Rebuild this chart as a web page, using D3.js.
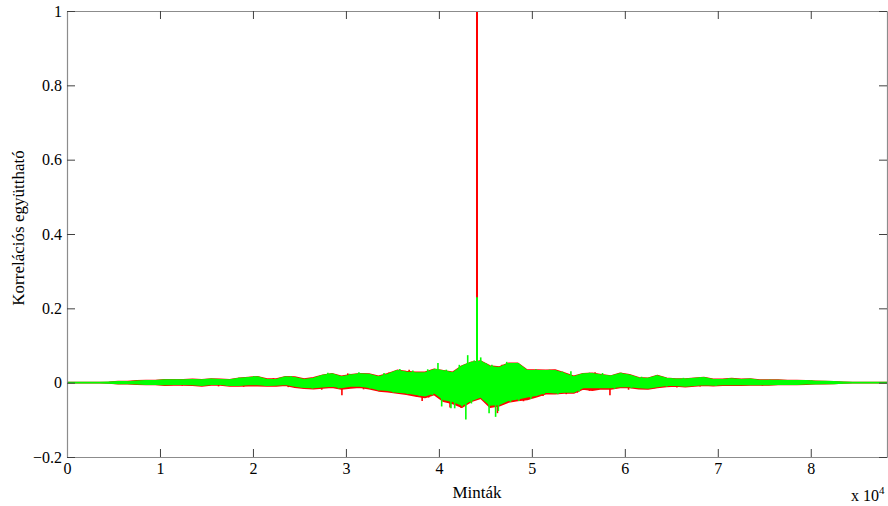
<!DOCTYPE html>
<html>
<head>
<meta charset="utf-8">
<script src="https://cdn.jsdelivr.net/npm/d3@7"></script>
<style>
  html, body { margin: 0; padding: 0; background: #fff; }
  svg { display: block; }
  text { font-family: "Liberation Serif", "Times New Roman", serif; fill: #000; }
</style>
</head>
<body>
<svg id="chart" width="888" height="506"></svg>
<script>
// Cross-correlation envelopes: max / min of each 1000-sample block (block k covers k*1000 .. k*1000+999)
const blockSize = 1000;

const greenHi = [0,0,0,0,0.001,0.002,0.002,0.004,0.005,0.005,
  0.007,0.007,0.007,0.008,0.007,0.009,0.008,0.007,0.011,0.013,
  0.015,0.008,0.008,0.015,0.013,0.008,0.011,0.019,0.023,0.015,
  0.020,0.023,0.022,0.015,0.022,0.032,0.028,0.026,0.026,0.035,
  0.031,0.026,0.044,0.054,0.057,0.043,0.040,0.051,0.051,0.032,
  0.032,0.032,0.032,0.024,0.015,0.023,0.024,0.020,0.017,0.024,
  0.020,0.012,0.011,0.018,0.011,0.009,0.009,0.011,0.013,0.008,
  0.008,0.010,0.008,0.009,0.006,0.006,0.006,0.005,0.005,0.005,
  0.003,0.003,0.002,0.001,0,0,0,0,0];

const greenLo = [0,0,0,0,-0.001,-0.002,-0.002,-0.003,-0.004,-0.004,
  -0.005,-0.004,-0.004,-0.005,-0.007,-0.004,-0.004,-0.007,-0.007,-0.005,
  -0.005,-0.007,-0.006,-0.004,-0.009,-0.012,-0.013,-0.011,-0.009,-0.013,
  -0.009,-0.009,-0.012,-0.018,-0.020,-0.025,-0.027,-0.031,-0.035,-0.027,
  -0.045,-0.050,-0.060,-0.047,-0.038,-0.060,-0.058,-0.047,-0.043,-0.038,
  -0.034,-0.025,-0.027,-0.025,-0.025,-0.013,-0.012,-0.013,-0.013,-0.010,
  -0.010,-0.013,-0.014,-0.010,-0.007,-0.007,-0.009,-0.007,-0.005,-0.006,
  -0.005,-0.005,-0.005,-0.005,-0.005,-0.005,-0.004,-0.004,-0.004,-0.003,
  -0.003,-0.002,-0.002,-0.001,0,0,0,0,0];

const redHi = [0,0,0,0,0.001,0.003,0.003,0.005,0.006,0.006,
  0.008,0.008,0.008,0.009,0.008,0.010,0.009,0.008,0.012,0.014,
  0.016,0.010,0.010,0.016,0.015,0.010,0.013,0.020,0.024,0.017,
  0.021,0.024,0.023,0.017,0.024,0.033,0.030,0.028,0.028,0.036,
  0.032,0.028,0.045,0.055,0.058,0.045,0.042,0.052,0.052,0.034,
  0.034,0.033,0.034,0.026,0.017,0.024,0.025,0.021,0.018,0.025,
  0.021,0.013,0.012,0.019,0.012,0.010,0.010,0.012,0.014,0.009,
  0.009,0.011,0.009,0.010,0.007,0.007,0.007,0.006,0.006,0.005,
  0.004,0.003,0.002,0.001,0,0,0,0,0];

const redLo = [0,0,0,0,-0.001,-0.003,-0.003,-0.004,-0.005,-0.005,
  -0.007,-0.006,-0.006,-0.007,-0.009,-0.006,-0.006,-0.009,-0.009,-0.008,
  -0.008,-0.009,-0.009,-0.007,-0.012,-0.015,-0.016,-0.014,-0.012,-0.017,
  -0.014,-0.012,-0.016,-0.022,-0.024,-0.028,-0.031,-0.036,-0.040,-0.032,
  -0.050,-0.056,-0.066,-0.050,-0.042,-0.066,-0.062,-0.052,-0.048,-0.045,
  -0.038,-0.030,-0.030,-0.028,-0.028,-0.017,-0.020,-0.016,-0.017,-0.013,
  -0.013,-0.016,-0.017,-0.013,-0.010,-0.009,-0.011,-0.009,-0.007,-0.008,
  -0.007,-0.007,-0.007,-0.006,-0.006,-0.006,-0.005,-0.005,-0.005,-0.004,
  -0.003,-0.003,-0.002,-0.001,0,0,0,0,0];

// Isolated extreme samples [lag, coefficient]
const greenSpikes = [
  [8200,0.005],[9600,-0.005],[11800,0.008],[13300,-0.006],[15400,0.010],[17200,-0.008],
  [18500,0.013],[20100,0.018],[21300,-0.008],[22900,0.013],[24100,0.018],[25200,-0.013],
  [26400,-0.016],[28060,0.027],[29200,-0.016],[30400,0.024],[31400,0.028],[32600,-0.016],
  [33500,-0.021],[34100,0.026],[35100,-0.027],[35800,0.037],[36600,-0.031],[37200,0.033],
  [37900,-0.036],[38800,0.036],[39300,-0.034],[39900,0.053],[40300,-0.064],[40800,0.035],
  [41300,-0.069],[41700,-0.069],[42200,0.048],[42500,-0.064],[42900,-0.099],[43100,0.074],
  [43500,-0.056],[43800,0.060],[44100,0.23],[44500,0.068],[44800,-0.046],[45100,0.052],
  [45400,-0.082],[45700,0.048],[46100,-0.092],[46400,-0.076],[46900,0.046],[47300,0.056],
  [47700,-0.052],[48200,0.053],[48600,-0.049],[49200,0.038],[49900,-0.044],[50430,0.036],
  [51300,-0.032],[51900,0.035],[52800,-0.031],[53300,0.030],[54200,0.031],[55100,-0.024],
  [56200,0.027],[57600,0.026],[58900,-0.017],[59600,0.027],[60700,-0.015],[61800,0.016],
  [63400,0.020],[64500,-0.011],[66300,0.013],[68100,0.015],[69800,-0.009],[71200,0.012],
  [73400,0.010],[75600,0.008],[77900,0.007],[80100,0.006],[82400,0.004]];

const redSpikes = [
  [12400,-0.008],[16300,-0.010],[19000,-0.011],[22200,0.012],[23800,-0.012],[27400,-0.019],
  [29570,-0.034],[30200,0.025],[31900,-0.018],[33550,-0.022],[34600,0.027],[35270,-0.024],
  [35900,-0.022],[36800,0.035],[37600,-0.038],[38200,-0.049],[38900,-0.040],[41200,-0.067],
  [42400,-0.068],[44100,1.0],[46300,-0.082],[46800,0.048],[49100,-0.050],[51200,-0.036],
  [52400,0.034],[53700,-0.031],[54900,-0.027],[56200,-0.022],[56800,0.028],[58400,-0.034],
  [60400,-0.019],[63200,-0.015],[65600,-0.013],[68100,-0.010],[71600,-0.009],[74800,-0.008]];

const xTicks = [0,1,2,3,4,5,6,7,8];
const yTicks = [-0.2,0,0.2,0.4,0.6,0.8,1];
const sampleCount = 88200;

const svg = d3.select("#chart");
const plotLeft = 67, plotRight = 887, plotTop = 11, plotBottom = 457;

const x = d3.scaleLinear().domain([0, sampleCount]).range([plotLeft, plotRight]);
const y = d3.scaleLinear().domain([-0.2, 1]).range([plotBottom, plotTop]);

svg.append("clipPath").attr("id", "plot-clip")
  .append("rect").attr("x", plotLeft).attr("y", plotTop)
  .attr("width", plotRight - plotLeft).attr("height", plotBottom - plotTop);

const plot = svg.append("g").attr("clip-path", "url(#plot-clip)");

function drawSeries(hi, lo, spikes, color) {
  const pts = hi.map((h, k) => ({ s: k * blockSize + blockSize / 2, h, l: lo[k] }));
  pts.unshift({ s: 0, h: 0, l: 0 });
  pts.push({ s: sampleCount, h: 0, l: 0 });
  const area = d3.area().x(d => x(d.s)).y0(d => y(d.l)).y1(d => y(d.h));
  plot.append("path").attr("d", area(pts))
    .attr("fill", color).attr("stroke", color).attr("stroke-width", 1.6).attr("stroke-linejoin", "round");
  plot.selectAll(null).data(spikes).enter().append("line")
    .attr("x1", d => x(d[0])).attr("x2", d => x(d[0]))
    .attr("y1", y(0)).attr("y2", d => y(d[1]))
    .attr("stroke", color).attr("stroke-width", d => d[0] === 44100 ? 2 : 1.6);
}

drawSeries(redHi, redLo, redSpikes, "#ff0000");
drawSeries(greenHi, greenLo, greenSpikes, "#00ff00");

// Axes box, MATLAB style: gray frame, ticks pointing inward
const frameColor = "#8c8c8c";
const tickColor = "#404040";

const xAxis = d3.axisBottom(x).tickValues(xTicks.map(v => v * 1e4)).tickFormat((d, i) => xTicks[i])
  .tickSizeInner(-8).tickSizeOuter(0).tickPadding(6);
const gx = svg.append("g").attr("transform", `translate(0,${plotBottom})`).call(xAxis);

const xTop = d3.axisTop(x).tickValues(xTicks.map(v => v * 1e4)).tickFormat("")
  .tickSizeInner(-8).tickSizeOuter(0);
const gxt = svg.append("g").attr("transform", `translate(0,${plotTop})`).call(xTop);

const yAxis = d3.axisLeft(y).tickValues(yTicks).tickFormat(d3.format("")).tickSizeInner(-8).tickSizeOuter(0).tickPadding(5);
const gy = svg.append("g").attr("transform", `translate(${plotLeft},0)`).call(yAxis);

const yRight = d3.axisRight(y).tickValues(yTicks).tickFormat("").tickSizeInner(-8).tickSizeOuter(0);
const gyr = svg.append("g").attr("transform", `translate(${plotRight},0)`).call(yRight);

[gx, gxt, gy, gyr].forEach(g => {
  g.select(".domain").attr("stroke", frameColor).attr("stroke-width", 1.2);
  g.selectAll(".tick line").attr("stroke", tickColor).attr("stroke-width", 1);
  g.selectAll(".tick text").attr("font-size", 16).attr("fill", "#000")
    .style("font-family", "'Liberation Serif', 'Times New Roman', serif");
});

svg.append("text").attr("x", (plotLeft + plotRight) / 2).attr("y", 498)
  .attr("text-anchor", "middle").attr("font-size", 17).text("Minták");

const exp = svg.append("text").attr("x", 851).attr("y", 501).attr("font-size", 16);
exp.append("tspan").text("x 10");
exp.append("tspan").attr("dy", -7).attr("font-size", 11).text("4");

svg.append("text").attr("transform", `translate(24,228) rotate(-90)`)
  .attr("text-anchor", "middle").attr("font-size", 17).text("Korrelációs együttható");
</script>
</body>
</html>
